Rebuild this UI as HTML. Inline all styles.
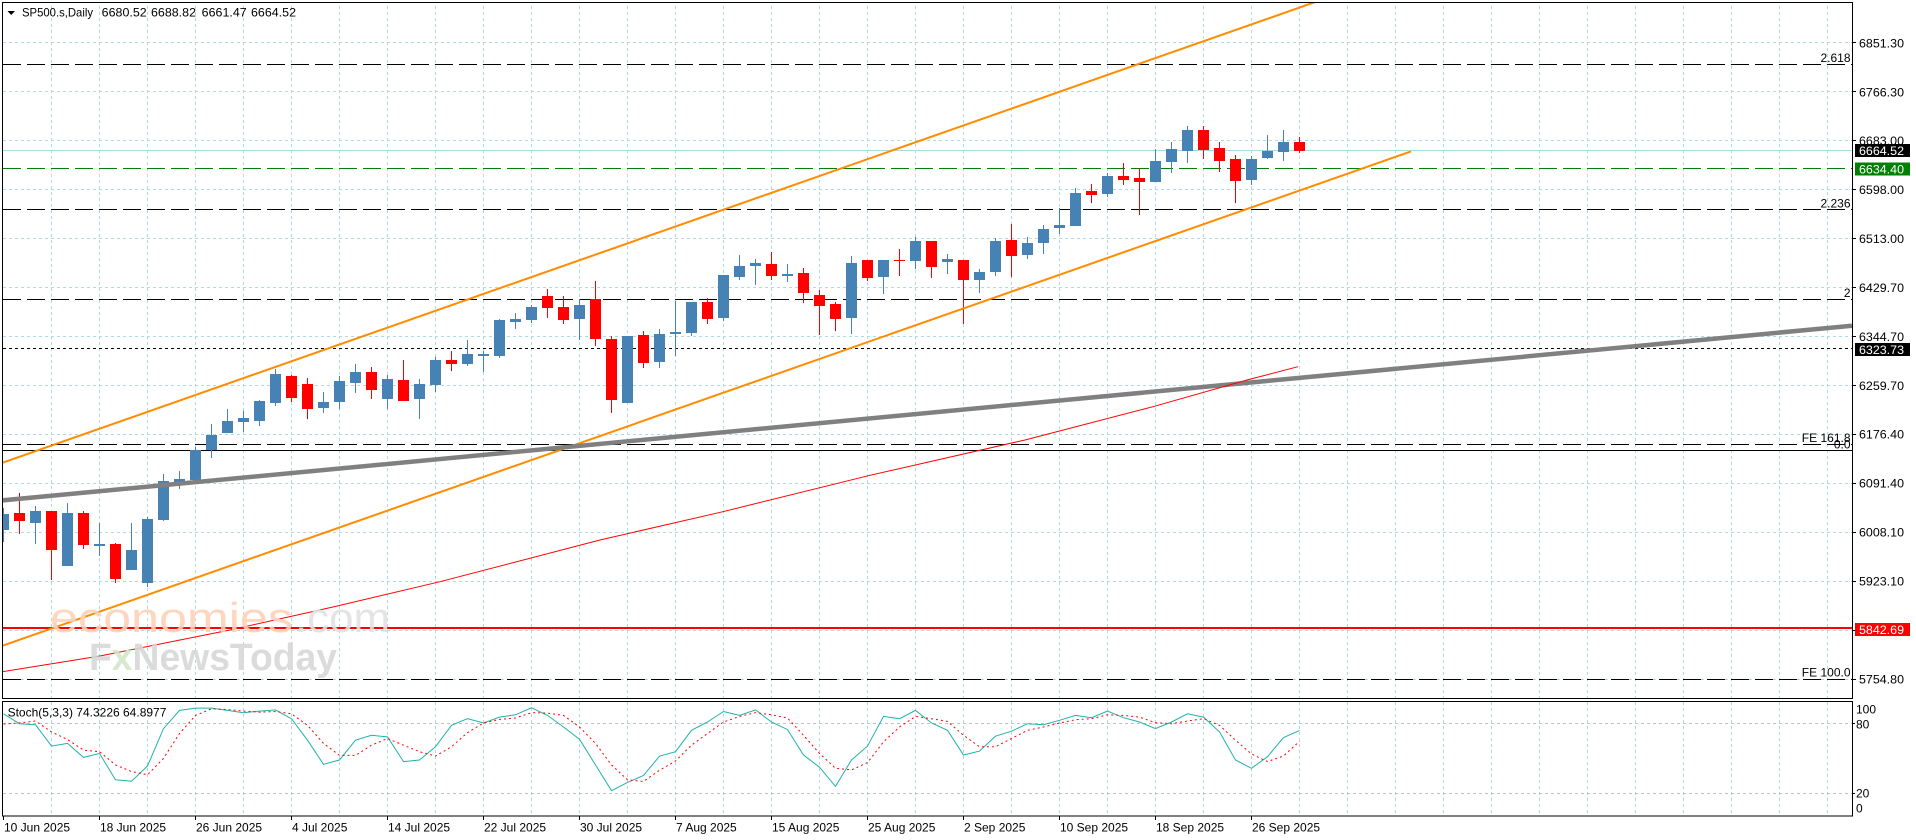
<!DOCTYPE html>
<html><head><meta charset="utf-8"><style>
html,body{margin:0;padding:0;background:#fff;width:1916px;height:840px;overflow:hidden}
svg{display:block}
text{font-family:"Liberation Sans",sans-serif;font-size:12px;fill:#000}
</style></head><body>
<svg width="1916" height="840" viewBox="0 0 1916 840" xmlns="http://www.w3.org/2000/svg">
<defs>
<clipPath id="cm"><rect x="3" y="3" width="1849" height="695"/></clipPath>
<clipPath id="cs"><rect x="3" y="702" width="1849" height="114"/></clipPath>
<pattern id="gv" x="51" y="0" width="48" height="6" patternUnits="userSpaceOnUse"><rect x="0" y="0" width="1" height="3" fill="#b0dae2"/></pattern>
</defs>
<rect width="1916" height="840" fill="#fff"/>

<!-- main grid -->
<rect x="4" y="3" width="1848" height="695" fill="url(#gv)"/>
<path d="M3 42.5H1852M3 91.5H1852M3 140.5H1852M3 189.5H1852M3 238.5H1852M3 287.5H1852M3 336.5H1852M3 385.5H1852M3 434.5H1852M3 483.5H1852M3 532.5H1852M3 581.5H1852M3 630.5H1852M3 679.5H1852" stroke="#b0dae2" stroke-width="1" stroke-dasharray="3 3" fill="none"/>

<!-- horizontal levels -->
<g fill="none" stroke-width="1">
<path d="M3 64.5H1852" stroke="#000" stroke-dasharray="18 6"/>
<path d="M3 209.5H1852" stroke="#000" stroke-dasharray="18 6"/>
<path d="M3 299.5H1852" stroke="#000" stroke-dasharray="18 6"/>
<path d="M3 444.5H1852" stroke="#000" stroke-dasharray="18 6"/>
<path d="M3 679.5H1852" stroke="#000" stroke-dasharray="18 6"/>
<path d="M3 348.5H1852" stroke="#000" stroke-dasharray="3 3"/>
<path d="M3 450.5H1852" stroke="#000"/>
<path d="M3 150.5H1852" stroke="#a8dcdc"/>
<path d="M3 168.5H1852" stroke="#008000" stroke-dasharray="18 6"/>
<path d="M3 628H1852" stroke="#ff0000" stroke-width="2"/>
</g>

<!-- level labels -->
<text x="1850.5" y="62" text-anchor="end">2.618</text>
<text x="1850.5" y="207.3" text-anchor="end">2.236</text>
<text x="1850.5" y="297" text-anchor="end">2</text>
<text x="1850.5" y="442" text-anchor="end">FE 161.8</text>
<text x="1850.5" y="448.5" text-anchor="end">0.0</text>
<text x="1850.5" y="676.7" text-anchor="end">FE 100.0</text>

<g clip-path="url(#cm)">
<!-- candles blue -->
<g fill="#4682b4">
<rect x="3" y="508" width="1" height="34"/><rect x="-2" y="514" width="11" height="16"/>
<rect x="35" y="506" width="1" height="38"/><rect x="30" y="511" width="11" height="12"/>
<rect x="67" y="503" width="1" height="63"/><rect x="62" y="513" width="11" height="53"/>
<rect x="99" y="523" width="1" height="33"/><rect x="94" y="544" width="11" height="2"/>
<rect x="131" y="523" width="1" height="47"/><rect x="126" y="550" width="11" height="20"/>
<rect x="147" y="517" width="1" height="70"/><rect x="142" y="519" width="11" height="64"/>
<rect x="163" y="474" width="1" height="47"/><rect x="158" y="481" width="11" height="39"/>
<rect x="179" y="471" width="1" height="18"/><rect x="174" y="479" width="11" height="3"/>
<rect x="195" y="447" width="1" height="33"/><rect x="190" y="450" width="11" height="30"/>
<rect x="211" y="424" width="1" height="34"/><rect x="206" y="435" width="11" height="15"/>
<rect x="227" y="409" width="1" height="24"/><rect x="222" y="421" width="11" height="12"/>
<rect x="243" y="411" width="1" height="21"/><rect x="238" y="418" width="11" height="4"/>
<rect x="259" y="400" width="1" height="26"/><rect x="254" y="401" width="11" height="20"/>
<rect x="275" y="369" width="1" height="37"/><rect x="270" y="374" width="11" height="29"/>
<rect x="323" y="392" width="1" height="21"/><rect x="318" y="402" width="11" height="6"/>
<rect x="339" y="376" width="1" height="33"/><rect x="334" y="381" width="11" height="21"/>
<rect x="355" y="364" width="1" height="29"/><rect x="350" y="372" width="11" height="11"/>
<rect x="387" y="375" width="1" height="34"/><rect x="382" y="379" width="11" height="20"/>
<rect x="419" y="379" width="1" height="40"/><rect x="414" y="384" width="11" height="15"/>
<rect x="435" y="357" width="1" height="35"/><rect x="430" y="360" width="11" height="25"/>
<rect x="467" y="340" width="1" height="26"/><rect x="462" y="354" width="11" height="10"/>
<rect x="483" y="351" width="1" height="21"/><rect x="478" y="354" width="11" height="2"/>
<rect x="499" y="319" width="1" height="39"/><rect x="494" y="320" width="11" height="36"/>
<rect x="515" y="313" width="1" height="16"/><rect x="510" y="319" width="11" height="3"/>
<rect x="531" y="305" width="1" height="18"/><rect x="526" y="307" width="11" height="13"/>
<rect x="579" y="299" width="1" height="41"/><rect x="574" y="305" width="11" height="14"/>
<rect x="627" y="336" width="1" height="67"/><rect x="622" y="336" width="11" height="67"/>
<rect x="659" y="329" width="1" height="39"/><rect x="654" y="334" width="11" height="28"/>
<rect x="675" y="301" width="1" height="55"/><rect x="670" y="332" width="11" height="2"/>
<rect x="691" y="302" width="1" height="34"/><rect x="686" y="302" width="11" height="31"/>
<rect x="723" y="275" width="1" height="46"/><rect x="718" y="275" width="11" height="43"/>
<rect x="739" y="255" width="1" height="25"/><rect x="734" y="266" width="11" height="11"/>
<rect x="755" y="259" width="1" height="26"/><rect x="750" y="263" width="11" height="3"/>
<rect x="787" y="264" width="1" height="18"/><rect x="782" y="274" width="11" height="2"/>
<rect x="851" y="256" width="1" height="78"/><rect x="846" y="263" width="11" height="55"/>
<rect x="883" y="260" width="1" height="34"/><rect x="878" y="260" width="11" height="17"/>
<rect x="915" y="237" width="1" height="32"/><rect x="910" y="241" width="11" height="20"/>
<rect x="947" y="254" width="1" height="20"/><rect x="942" y="259" width="11" height="3"/>
<rect x="979" y="269" width="1" height="24"/><rect x="974" y="272" width="11" height="8"/>
<rect x="995" y="238" width="1" height="38"/><rect x="990" y="241" width="11" height="31"/>
<rect x="1027" y="237" width="1" height="22"/><rect x="1022" y="243" width="11" height="12"/>
<rect x="1043" y="225" width="1" height="29"/><rect x="1038" y="229" width="11" height="14"/>
<rect x="1059" y="208" width="1" height="26"/><rect x="1054" y="225" width="11" height="3"/>
<rect x="1075" y="188" width="1" height="38"/><rect x="1070" y="193" width="11" height="33"/>
<rect x="1107" y="173" width="1" height="24"/><rect x="1102" y="176" width="11" height="18"/>
<rect x="1155" y="149" width="1" height="33"/><rect x="1150" y="161" width="11" height="21"/>
<rect x="1171" y="142" width="1" height="31"/><rect x="1166" y="149" width="11" height="13"/>
<rect x="1187" y="126" width="1" height="37"/><rect x="1182" y="130" width="11" height="21"/>
<rect x="1251" y="156" width="1" height="29"/><rect x="1246" y="159" width="11" height="21"/>
<rect x="1267" y="135" width="1" height="24"/><rect x="1262" y="151" width="11" height="7"/>
<rect x="1283" y="130" width="1" height="31"/><rect x="1278" y="142" width="11" height="10"/>
</g>
<!-- candles red -->
<g fill="#ff0000">
<rect x="19" y="493" width="1" height="41"/><rect x="14" y="513" width="11" height="8"/>
<rect x="51" y="511" width="1" height="69"/><rect x="46" y="511" width="11" height="39"/>
<rect x="83" y="511" width="1" height="38"/><rect x="78" y="513" width="11" height="32"/>
<rect x="115" y="543" width="1" height="40"/><rect x="110" y="544" width="11" height="35"/>
<rect x="291" y="375" width="1" height="27"/><rect x="286" y="376" width="11" height="22"/>
<rect x="307" y="378" width="1" height="41"/><rect x="302" y="384" width="11" height="25"/>
<rect x="371" y="367" width="1" height="32"/><rect x="366" y="372" width="11" height="18"/>
<rect x="403" y="360" width="1" height="41"/><rect x="398" y="380" width="11" height="21"/>
<rect x="451" y="351" width="1" height="20"/><rect x="446" y="360" width="11" height="4"/>
<rect x="547" y="289" width="1" height="29"/><rect x="542" y="296" width="11" height="12"/>
<rect x="563" y="296" width="1" height="28"/><rect x="558" y="307" width="11" height="13"/>
<rect x="595" y="281" width="1" height="65"/><rect x="590" y="299" width="11" height="40"/>
<rect x="611" y="336" width="1" height="77"/><rect x="606" y="339" width="11" height="61"/>
<rect x="643" y="331" width="1" height="37"/><rect x="638" y="335" width="11" height="28"/>
<rect x="707" y="298" width="1" height="26"/><rect x="702" y="302" width="11" height="17"/>
<rect x="771" y="252" width="1" height="28"/><rect x="766" y="264" width="11" height="12"/>
<rect x="803" y="268" width="1" height="35"/><rect x="798" y="273" width="11" height="20"/>
<rect x="819" y="290" width="1" height="45"/><rect x="814" y="295" width="11" height="11"/>
<rect x="835" y="302" width="1" height="29"/><rect x="830" y="304" width="11" height="15"/>
<rect x="867" y="260" width="1" height="21"/><rect x="862" y="260" width="11" height="18"/>
<rect x="899" y="249" width="1" height="27"/><rect x="894" y="260" width="11" height="1"/>
<rect x="931" y="241" width="1" height="37"/><rect x="926" y="241" width="11" height="26"/>
<rect x="963" y="260" width="1" height="64"/><rect x="958" y="260" width="11" height="20"/>
<rect x="1011" y="224" width="1" height="53"/><rect x="1006" y="240" width="11" height="16"/>
<rect x="1091" y="184" width="1" height="19"/><rect x="1086" y="191" width="11" height="4"/>
<rect x="1123" y="163" width="1" height="22"/><rect x="1118" y="176" width="11" height="4"/>
<rect x="1139" y="168" width="1" height="47"/><rect x="1134" y="178" width="11" height="4"/>
<rect x="1203" y="126" width="1" height="33"/><rect x="1198" y="130" width="11" height="20"/>
<rect x="1219" y="142" width="1" height="30"/><rect x="1214" y="148" width="11" height="13"/>
<rect x="1235" y="155" width="1" height="48"/><rect x="1230" y="159" width="11" height="22"/>
<rect x="1299" y="137" width="1" height="16"/><rect x="1294" y="142" width="11" height="9"/>
</g>

<!-- trend objects -->
<path d="M2 462.9L1411 -31.6" stroke="#ff8c00" stroke-width="2" fill="none"/>
<path d="M2 645.9L1411 151.4" stroke="#ff8c00" stroke-width="2" fill="none"/>
<path d="M2 500.4L1852 325.7" stroke="#808080" stroke-width="4.5" fill="none"/>
<path d="M2.7 671.7L100 656L230 630L333 607L440 581.7L600 540L723 511.7L870 475.3L1025 440L1153 406.7L1247 380L1298 366.7" stroke="#ff0000" stroke-width="1" fill="none"/>

<!-- watermark -->
<g opacity="0.9">
<text x="50" y="632" style="font-size:42px;fill:#fdd2b6" textLength="243" lengthAdjust="spacingAndGlyphs">economies</text>
<text x="295" y="632" style="font-size:42px;fill:#e2e2e2" textLength="95" lengthAdjust="spacingAndGlyphs">.com</text>
<text x="89" y="670" style="font-size:38px;font-weight:bold;fill:#d8d8d8" textLength="248" lengthAdjust="spacingAndGlyphs">F<tspan style="fill:#d3e8cc">x</tspan>NewsToday</text>
</g>
</g>

<!-- title -->
<polygon points="7.5,11 15,11 11.2,15" fill="#000"/>
<text x="22" y="16.7" textLength="71" lengthAdjust="spacingAndGlyphs">SP500.s,Daily</text>
<text x="101.7" y="16.7" textLength="45" lengthAdjust="spacingAndGlyphs">6680.52</text>
<text x="151" y="16.7" textLength="45" lengthAdjust="spacingAndGlyphs">6688.82</text>
<text x="201.7" y="16.7" textLength="45" lengthAdjust="spacingAndGlyphs">6661.47</text>
<text x="251" y="16.7" textLength="45" lengthAdjust="spacingAndGlyphs">6664.52</text>

<!-- main border -->
<rect x="2.5" y="2.5" width="1850" height="696" fill="none" stroke="#000" stroke-width="1"/>

<!-- price axis ticks -->
<path d="M1852 42.5H1856M1852 91.5H1856M1852 140.5H1856M1852 189.5H1856M1852 238.5H1856M1852 287.5H1856M1852 336.5H1856M1852 385.5H1856M1852 434.5H1856M1852 483.5H1856M1852 532.5H1856M1852 581.5H1856M1852 630.5H1856M1852 679.5H1856" stroke="#000" stroke-width="1"/>

<!-- price axis labels -->
<g>
<text x="1859" y="47.3" textLength="45" lengthAdjust="spacingAndGlyphs">6851.30</text>
<text x="1859" y="96.3" textLength="45" lengthAdjust="spacingAndGlyphs">6766.30</text>
<text x="1859" y="145" textLength="45" lengthAdjust="spacingAndGlyphs">6683.00</text>
<text x="1859" y="194" textLength="45" lengthAdjust="spacingAndGlyphs">6598.00</text>
<text x="1859" y="243" textLength="45" lengthAdjust="spacingAndGlyphs">6513.00</text>
<text x="1859" y="292" textLength="45" lengthAdjust="spacingAndGlyphs">6429.70</text>
<text x="1859" y="341" textLength="45" lengthAdjust="spacingAndGlyphs">6344.70</text>
<text x="1859" y="390" textLength="45" lengthAdjust="spacingAndGlyphs">6259.70</text>
<text x="1859" y="438.7" textLength="45" lengthAdjust="spacingAndGlyphs">6176.40</text>
<text x="1859" y="487.6" textLength="45" lengthAdjust="spacingAndGlyphs">6091.40</text>
<text x="1859" y="536.5" textLength="45" lengthAdjust="spacingAndGlyphs">6008.10</text>
<text x="1859" y="585.4" textLength="45" lengthAdjust="spacingAndGlyphs">5923.10</text>
<text x="1859" y="683.3" textLength="45" lengthAdjust="spacingAndGlyphs">5754.80</text>
</g>
<!-- price boxes -->
<rect x="1855" y="144" width="55" height="13" fill="#000"/>
<text x="1859" y="155" style="fill:#fff" textLength="45" lengthAdjust="spacingAndGlyphs">6664.52</text>
<rect x="1855" y="162.5" width="55" height="13" fill="#008000"/>
<text x="1859" y="173.5" style="fill:#fff" textLength="45" lengthAdjust="spacingAndGlyphs">6634.40</text>
<rect x="1855" y="343" width="55" height="13" fill="#000"/>
<text x="1859" y="354" style="fill:#fff" textLength="45" lengthAdjust="spacingAndGlyphs">6323.73</text>
<rect x="1855" y="623" width="55" height="13" fill="#ff0000"/>
<text x="1859" y="634" style="fill:#fff" textLength="45" lengthAdjust="spacingAndGlyphs">5842.69</text>

<!-- stoch subwindow -->
<rect x="4" y="702" width="1848" height="114" fill="url(#gv)"/>
<path d="M3 723.5H1852M3 793.5H1852" stroke="#c0c0c0" stroke-width="1" stroke-dasharray="3 3" fill="none"/>
<g clip-path="url(#cs)" fill="none">
<polyline stroke="#20b2aa" stroke-width="1" points="3.5,713.8 19.5,723.7 35.5,724.7 51.5,746.1 67.5,743.4 83.5,757.4 99.5,753.4 115.5,779.8 131.5,781.2 147.5,766 163.5,728.6 179.5,710.4 195.5,708.1 211.5,708.1 227.5,710.4 243.5,712.7 259.5,711.1 275.5,709.9 291.5,718.7 307.5,740.2 323.5,764.3 339.5,760 355.5,740.2 371.5,735.3 387.5,736.9 403.5,761.6 419.5,760 435.5,746.8 451.5,725.3 467.5,718.7 483.5,723 499.5,717.1 515.5,714.8 531.5,707.8 547.5,715.4 563.5,727 579.5,739.2 595.5,764.9 611.5,790.7 627.5,782.4 643.5,775.5 659.5,756.2 675.5,751.7 691.5,730.3 707.5,722 723.5,711.5 739.5,715.4 755.5,709.9 771.5,722 787.5,729.6 803.5,755 819.5,767.2 835.5,786.4 851.5,760 867.5,746.1 883.5,716.4 899.5,718.7 915.5,710.4 931.5,723 947.5,730.3 963.5,755 979.5,751.1 995.5,736.2 1011.5,731.2 1027.5,723.7 1043.5,724.7 1059.5,720.3 1075.5,715.4 1091.5,717.7 1107.5,711.1 1123.5,717.7 1139.5,722 1155.5,728.6 1171.5,722 1187.5,713.8 1203.5,717.1 1219.5,731.9 1235.5,760 1251.5,768.3 1267.5,756.7 1283.5,737.5 1299.5,730.6"/>
<polyline stroke="#ff0000" stroke-width="1" stroke-dasharray="2 3" points="3.5,724 19.5,722.9 35.5,721 51.5,731.9 67.5,739.5 83.5,750.1 99.5,751.7 115.5,764.9 131.5,771.5 147.5,774.8 163.5,758.4 179.5,733.5 195.5,715.4 211.5,708.8 227.5,709.5 243.5,711.1 259.5,712.2 275.5,711.5 291.5,713.8 307.5,725.3 323.5,743.4 339.5,755.4 355.5,755.4 371.5,745.2 387.5,738.5 403.5,745.2 419.5,751.7 435.5,756 451.5,746.8 467.5,732.6 483.5,723 499.5,719.4 515.5,718 531.5,712.7 547.5,713.1 563.5,715.4 579.5,727 595.5,743.4 611.5,764.9 627.5,779.8 643.5,781.5 659.5,770.3 675.5,761 691.5,745.2 707.5,733.5 723.5,722 739.5,716.4 755.5,712.7 771.5,714.8 787.5,718 803.5,735.3 819.5,753.4 835.5,768.3 851.5,769.9 867.5,762.6 883.5,741.8 899.5,727 915.5,716.4 931.5,718.7 947.5,721.4 963.5,735.3 979.5,746.8 995.5,746.8 1011.5,738.5 1027.5,730.3 1043.5,727 1059.5,723 1075.5,719.7 1091.5,718.7 1107.5,714.8 1123.5,715.4 1139.5,717.1 1155.5,722.7 1171.5,723.7 1187.5,721 1203.5,718.7 1219.5,725.3 1235.5,740.2 1251.5,754 1267.5,761.6 1283.5,756 1299.5,741.4"/>
</g>
<text x="7.6" y="716.7">Stoch(5,3,3) 74.3226 64.8977</text>
<rect x="2.5" y="701.5" width="1850" height="114.5" fill="none" stroke="#000" stroke-width="1"/>
<path d="M1852 723.5H1855M1852 793.5H1855" stroke="#000" stroke-width="1"/>
<text x="1856" y="713.3">100</text>
<text x="1856" y="728.3">80</text>
<text x="1856" y="797.7">20</text>
<text x="1856" y="812.7">0</text>

<!-- date axis -->
<path d="M3.5 816V820M99.5 816V820M195.5 816V820M291.5 816V820M387.5 816V820M483.5 816V820M579.5 816V820M675.5 816V820M771.5 816V820M867.5 816V820M963.5 816V820M1059.5 816V820M1155.5 816V820M1251.5 816V820" stroke="#000" stroke-width="1"/>
<g>
<text x="4" y="831.5">10 Jun 2025</text>
<text x="100" y="831.5">18 Jun 2025</text>
<text x="196" y="831.5">26 Jun 2025</text>
<text x="292" y="831.5">4 Jul 2025</text>
<text x="388" y="831.5">14 Jul 2025</text>
<text x="484" y="831.5">22 Jul 2025</text>
<text x="580" y="831.5">30 Jul 2025</text>
<text x="676" y="831.5">7 Aug 2025</text>
<text x="772" y="831.5">15 Aug 2025</text>
<text x="868" y="831.5">25 Aug 2025</text>
<text x="964" y="831.5">2 Sep 2025</text>
<text x="1060" y="831.5">10 Sep 2025</text>
<text x="1156" y="831.5">18 Sep 2025</text>
<text x="1252" y="831.5">26 Sep 2025</text>
</g>
</svg>
</body></html>
